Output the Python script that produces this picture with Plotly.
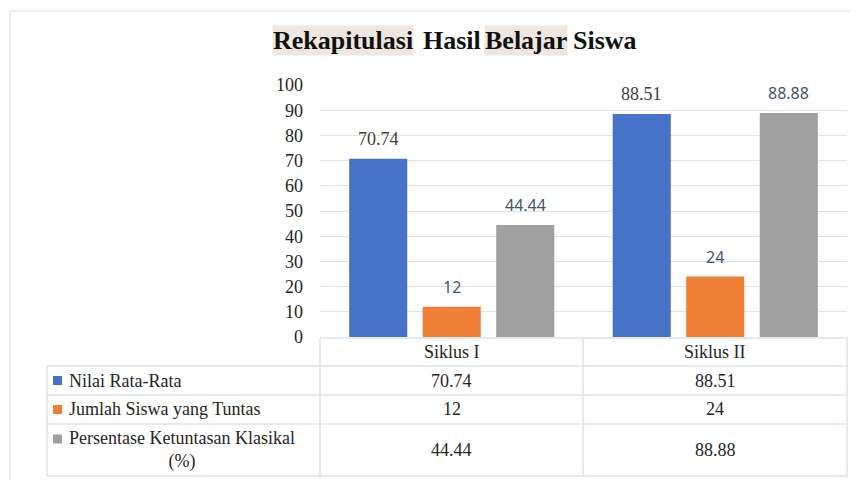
import plotly.graph_objects as go

# ---------------- data ----------------
categories = ["Siklus I", "Siklus II"]
series_names = ["Nilai Rata-Rata", "Jumlah Siswa yang Tuntas",
                "Persentase Ketuntasan Klasikal<br>(%)"]
nilai = [70.74, 88.51]
jumlah = [12, 24]
persen = [44.44, 88.88]
y_ticks = list(range(0, 101, 10))
title_words = ["Rekapitulasi", "Hasil", "Belajar", "Siswa"]
title_highlight = [True, False, True, False]

# ---------------- geometry (reference pixel coords, page has 8px body margin) ----
OFF = 8
W, H = 858 - OFF, 480 - OFF
PX0, PX1, PY0, PY1 = 320, 847, 85, 337      # plot area in reference pixels
L, R = PX0 - OFF, W - (PX1 - OFF)
T, B = PY0 - OFF, H - (PY1 - OFF)
pw = W - L - R
ph = H - T - B


def px(x):
    return (x - OFF - L) / pw


def py(y):
    return (H - B - (y - OFF)) / ph


colors = ["#4672c7", "#ef7f36", "#a0a0a0"]
serif = "Liberation Serif"
sans = "Noto Sans"
line_col = "#dbe0ea"
text_col = "#262626"

BARGAP = 0.163
series_vals = [nilai, jumlah, persen]
label_fonts = [
    dict(family=serif, size=18, color="#404040"),
    dict(family=sans, size=16, color="#44546a"),
    dict(family=sans, size=16, color="#44546a"),
]

fig = go.Figure()
for name, vals, col in zip(series_names, series_vals, colors):
    fig.add_trace(go.Bar(
        x=categories, y=vals, name=name,
        marker=dict(color=col, line=dict(width=0)),
        showlegend=False,
        hovertemplate="%{x}: %{y}<extra></extra>",
    ))

annotations = []
# data labels placed over each bar (bar slot offset derived from bargap)
slot_px = (1 - BARGAP) / len(series_vals) * pw / len(categories)
for i, (vals, lf) in enumerate(zip(series_vals, label_fonts)):
    for c, v in zip(categories, vals):
        annotations.append(dict(
            text=f"{v:g}", xref="x", yref="y", x=c, y=v,
            xshift=(i - (len(series_vals) - 1) / 2) * slot_px, yshift=20,
            xanchor="center", yanchor="middle", showarrow=False, font=lf))

shapes = []
# outer chart border (left and top)
shapes.append(dict(type="path", xref="paper", yref="paper",
                   path=f"M {px(10)} {py(490)} L {px(10)} {py(11)} L {px(870)} {py(11)}",
                   line=dict(color="#e6e8ee", width=1.5)))


def hline(y, x0, x1):
    shapes.append(dict(type="line", xref="paper", yref="paper",
                       x0=px(x0), x1=px(x1), y0=py(y), y1=py(y),
                       line=dict(color=line_col, width=1.5)))


def vline(x, y0, y1):
    shapes.append(dict(type="line", xref="paper", yref="paper",
                       x0=px(x), x1=px(x), y0=py(y0), y1=py(y1),
                       line=dict(color=line_col, width=1.5)))


hline(338, 320, 847)
for yy in (366, 395, 424, 476):
    hline(yy, 47, 847)
vline(47, 366, 476)
for xx in (320, 583, 847):
    vline(xx, 338, 476)

# title words
word_x = [272, 422, 484, 572]
for w, hl, wx in zip(title_words, title_highlight, word_x):
    annotations.append(dict(
        text=f"<b>{w}</b>", xref="paper", yref="paper",
        x=px(wx), y=py(41), xanchor="left", yanchor="middle",
        showarrow=False, font=dict(family=serif, size=26, color="#111111"),
        bgcolor="#efe7df" if hl else "rgba(0,0,0,0)", borderpad=0))

# header row
for c in categories:
    annotations.append(dict(text=c, xref="x", yref="paper", x=c, y=py(352),
                            xanchor="center", yanchor="middle",
                            showarrow=False, font=dict(family=serif, size=18, color=text_col)))

row_centers = [380.5, 409.5, 450]
for name, vals, col, yc in zip(series_names, series_vals, colors, row_centers):
    multi = "<br>" in name
    annotations.append(dict(text=name, xref="paper", yref="paper", x=px(67), y=py(yc),
                            xanchor="left", yanchor="middle", align="center",
                            showarrow=False,
                            font=dict(family=serif, size=18, color=text_col)))
    ky = yc - 11 if multi else yc
    shapes.append(dict(type="rect", xref="paper", yref="paper",
                       x0=px(53), x1=px(62), y0=py(ky - 4.5), y1=py(ky + 4.5),
                       fillcolor=col, line=dict(width=0)))
    for c, v in zip(categories, vals):
        annotations.append(dict(text=f"{v:g}", xref="x", yref="paper", x=c, y=py(yc),
                                xanchor="center", yanchor="middle",
                                showarrow=False,
                                font=dict(family=serif, size=18, color=text_col)))

fig.update_layout(
    width=W, height=H,
    margin=dict(l=L, r=R, t=T, b=B),
    paper_bgcolor="white", plot_bgcolor="white",
    barmode="group", bargap=BARGAP, bargroupgap=0.21,
    showlegend=False,
    xaxis=dict(showticklabels=False, showgrid=False, zeroline=False, showline=False,
               ticks="", range=[-0.5, 1.5]),
    yaxis=dict(range=[0, 100], tickvals=y_ticks, showgrid=True, gridcolor="#dde1e8",
               gridwidth=1, zeroline=False, showline=False, ticks="",
               ticklabelstandoff=16,
               tickfont=dict(family=serif, size=18, color=text_col)),
    shapes=shapes,
    annotations=annotations,
)

fig.write_html("out.html")
